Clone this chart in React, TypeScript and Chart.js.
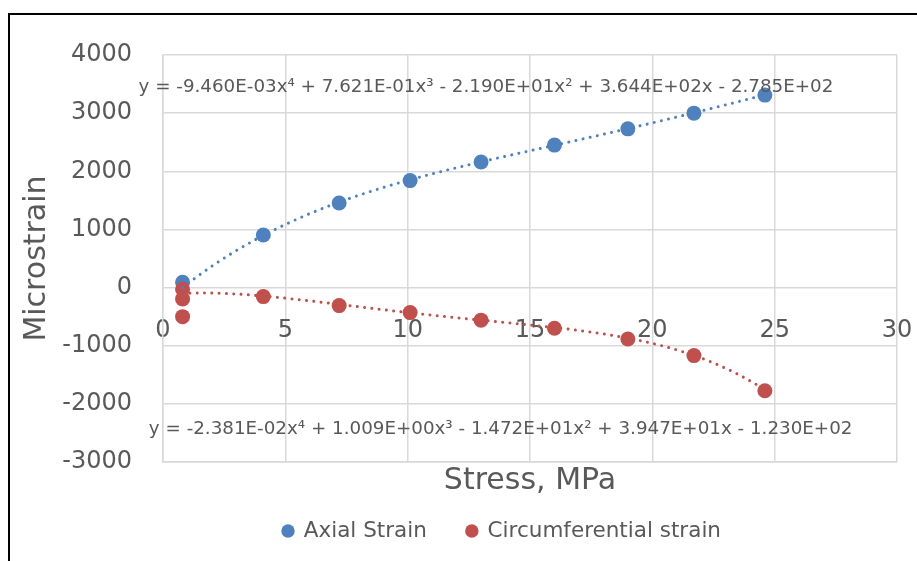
import React, { useEffect, useRef } from 'react';
import { Chart, registerables } from 'chart.js';

Chart.register(...registerables);

const FONT = '"DejaVu Sans", sans-serif';
const TEXT = '#595959';
const GRID = '#d9d9d9';
const BLUE = '#4F81BD';
const RED = '#C0504D';

// Data
const axialStress = [0.8, 4.1, 7.2, 10.1, 13.0, 16.0, 19.0, 21.7, 24.6];
const axialStrain = [90, 905, 1455, 1840, 2160, 2450, 2730, 3000, 3310];
const circStress = [0.8, 0.8, 0.8, 4.1, 7.2, 10.1, 13.0, 16.0, 19.0, 21.7, 24.6];
const circStrain = [-30, -195, -500, -155, -310, -430, -560, -700, -885, -1170, -1775];

// Polynomial trendline coefficients (a0..a4) as printed on the chart
const axialFit = [-278.5, 364.4, -21.9, 0.7621, -0.00946];
const circFit = [-123.0, 39.47, -14.72, 1.009, -0.02381];

const seriesNames = ['Axial Strain', 'Circumferential strain'];
const eqTexts = [
  'y = -9.460E-03x\u2074 + 7.621E-01x\u00B3 - 2.190E+01x\u00B2 + 3.644E+02x - 2.785E+02',
  'y = -2.381E-02x\u2074 + 1.009E+00x\u00B3 - 1.472E+01x\u00B2 + 3.947E+01x - 1.230E+02',
];
const eqAnchorX = [13.2, 13.8];
const eqAnchorY = [3450, -2432];

const xMin = 0, xMax = 30, xStep = 5;
const yMin = -3000, yMax = 4000, yStep = 1000;

const LEG_DX = 53.5;
const LEG_DY = -40.75;

function poly(c: number[], x: number) {
  return c.reduce((s, a, i) => s + a * Math.pow(x, i), 0);
}
function trend(c: number[], xs: number[]) {
  const lo = Math.min(...xs);
  const hi = Math.max(...xs);
  const n = 120;
  const pts: { x: number; y: number }[] = [];
  for (let i = 0; i <= n; i++) {
    const x = lo + ((hi - lo) * i) / n;
    pts.push({ x, y: poly(c, x) });
  }
  return pts;
}

const eqPlugin = {
  id: 'eqLabels',
  afterDatasetsDraw(chart: any) {
    const { ctx, scales } = chart;
    ctx.save();
    ctx.font = `18.3px ${FONT}`;
    ctx.fillStyle = TEXT;
    ctx.textAlign = 'center';
    ctx.textBaseline = 'middle';
    eqTexts.forEach((t, i) => {
      ctx.fillText(t, scales.x.getPixelForValue(eqAnchorX[i]), scales.y.getPixelForValue(eqAnchorY[i]));
    });
    ctx.restore();
  },
};

const legendShift = {
  id: 'legendShift',
  afterLayout(chart: any) {
    const l = chart.legend;
    if (!l) return;
    l.left += LEG_DX;
    l.right += LEG_DX;
    l.top += LEG_DY;
  },
};

export default function App() {
  const ref = useRef<HTMLCanvasElement>(null);
  useEffect(() => {
    const chart = new Chart(ref.current as HTMLCanvasElement, {
      type: 'scatter',
      data: {
        datasets: [
          {
            label: seriesNames[0],
            data: axialStress.map((x, i) => ({ x, y: axialStrain[i] })),
            backgroundColor: BLUE,
            borderColor: BLUE,
            pointRadius: 7.5,
            pointBorderWidth: 0,
            order: 3,
          },
          {
            label: seriesNames[1],
            data: circStress.map((x, i) => ({ x, y: circStrain[i] })),
            backgroundColor: RED,
            borderColor: RED,
            pointRadius: 7.5,
            pointBorderWidth: 0,
            order: 2,
          },
          {
            label: 'axial trend',
            data: trend(axialFit, axialStress),
            showLine: true,
            pointRadius: 0,
            borderColor: BLUE,
            borderWidth: 3,
            borderDash: [0.01, 7.3],
            borderCapStyle: 'round',
            fill: false,
            order: 1,
          },
          {
            label: 'circ trend',
            data: trend(circFit, circStress),
            showLine: true,
            pointRadius: 0,
            borderColor: RED,
            borderWidth: 3,
            borderDash: [0.01, 7.3],
            borderCapStyle: 'round',
            fill: false,
            order: 0,
          },
        ] as any,
      },
      options: {
        responsive: false,
        animation: false,
        devicePixelRatio: 1,
        events: [],
        layout: { padding: { top: 55, right: 20, bottom: 0, left: 0 } },
        plugins: {
          tooltip: { enabled: false },
          legend: {
            position: 'bottom',
            maxHeight: 40,
            labels: {
              usePointStyle: true,
              pointStyle: 'circle',
              boxWidth: 10,
              boxHeight: 9.5,
              padding: 40,
              color: TEXT,
              font: { family: FONT, size: 21.5 },
              filter: (item: any) => item.datasetIndex < 2,
              sort: (a: any, b: any) => a.datasetIndex - b.datasetIndex,
            },
          } as any,
        },
        scales: {
          x: {
            type: 'linear',
            position: 'bottom',
            min: xMin,
            max: xMax,
            ticks: { display: false, stepSize: xStep },
            grid: { color: GRID, lineWidth: 1.5, drawTicks: false },
            border: { color: GRID, width: 1.5 },
            title: {
              display: true,
              text: 'Stress, MPa',
              color: TEXT,
              font: { family: FONT, size: 30 },
              padding: { top: 0, bottom: 22 },
            },
            afterFit: (s: any) => {
              s.height = 59;
              s.paddingLeft = 0;
              s.paddingRight = 0;
            },
          },
          xTicks: {
            type: 'linear',
            axis: 'x',
            position: { y: 0 },
            min: xMin,
            max: xMax,
            ticks: { stepSize: xStep, color: TEXT, font: { family: FONT, size: 24 }, padding: 29 },
            grid: { display: false, drawTicks: false },
            border: { display: false },
            afterFit: (s: any) => {
              s.paddingLeft = 0;
              s.paddingRight = 0;
            },
          },
          y: {
            type: 'linear',
            min: yMin,
            max: yMax,
            ticks: {
              stepSize: yStep,
              color: TEXT,
              font: { family: FONT, size: 24 },
              padding: 31,
              callback: (v: any) => String(v),
            },
            grid: { color: GRID, lineWidth: 1.5, drawTicks: false },
            border: { color: GRID, width: 1.5 },
            title: {
              display: true,
              text: 'Microstrain',
              color: TEXT,
              font: { family: FONT, size: 30 },
              padding: { top: 19, bottom: 0 },
            },
            afterFit: (s: any) => {
              s.width = 163;
            },
          },
        } as any,
      },
      plugins: [eqPlugin, legendShift],
    });
    return () => chart.destroy();
  }, []);

  return (
    <div style={{ position: 'fixed', left: 0, top: 0, width: 917, height: 561, background: '#fff' }}>
      <div
        style={{
          position: 'absolute',
          left: 8,
          top: 13,
          right: 0,
          bottom: 0,
          borderLeft: '2px solid #000',
          borderTop: '2px solid #000',
        }}
      />
      <canvas
        ref={ref}
        width={917}
        height={561}
        style={{ position: 'absolute', left: 0, top: 0, width: 917, height: 561 }}
      />
    </div>
  );
}
